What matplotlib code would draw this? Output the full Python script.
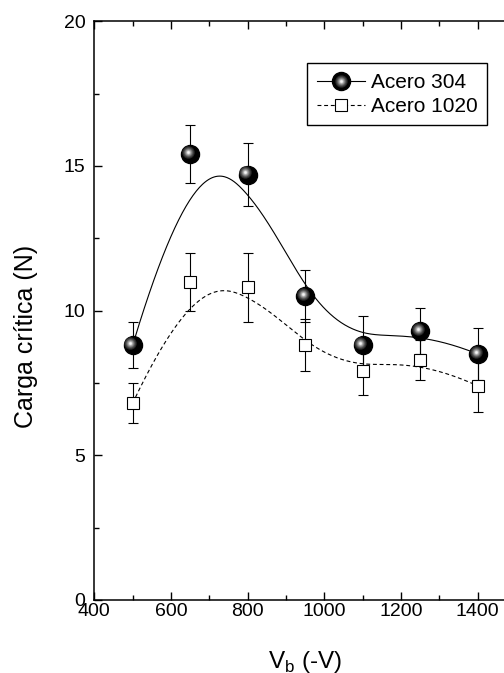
import numpy as np
import matplotlib
matplotlib.use("Agg")
import matplotlib.pyplot as plt
from matplotlib.lines import Line2D
from matplotlib.legend_handler import HandlerTuple
from matplotlib.transforms import offset_copy

# bias voltage (-V) and critical load (N)
voltage = [500, 650, 800, 950, 1100, 1250, 1400]
carga_304 = [8.8, 15.4, 14.7, 10.5, 8.8, 9.3, 8.5]
err_304 = [0.8, 1.0, 1.1, 0.9, 1.0, 0.8, 0.9]
carga_1020 = [6.8, 11.0, 10.8, 8.8, 7.9, 8.3, 7.4]
err_1020 = [0.7, 1.0, 1.2, 0.9, 0.8, 0.7, 0.9]

plt.rcParams['font.family'] = ['Liberation Sans', 'DejaVu Sans']
plt.rcParams['mathtext.fontset'] = 'custom'
plt.rcParams['mathtext.rm'] = 'Liberation Sans'

# grey layers that give the black balls their shine (size, colour)
shine_layers = [(9, '#262626'), (7.5, '#444444'), (6, '#6c6c6c'),
                (4.5, '#989898'), (3, '#c8c8c8'), (1.8, '#f4f4f4')]


def bspline(px, py, n=400, k=3):
    # clamped cubic B-spline using the data points as control points
    # (like the Origin "B-Spline" connect line)
    px = np.asarray(px, float)
    py = np.asarray(py, float)
    m = len(px)
    knots = np.concatenate([np.zeros(k), np.arange(m - k + 1), np.full(k, m - k)])
    t = np.linspace(0, knots[-1], n)
    t[-1] -= 1e-9
    N = np.array([(t >= knots[i]) & (t < knots[i + 1])
                  for i in range(len(knots) - 1)], float)
    for d in range(1, k + 1):
        Nn = np.zeros((len(knots) - 1 - d, n))
        for i in range(len(knots) - 1 - d):
            a = knots[i + d] - knots[i]
            b = knots[i + d + 1] - knots[i + 1]
            left = (t - knots[i]) / a * N[i] if a > 0 else 0
            right = (knots[i + d + 1] - t) / b * N[i + 1] if b > 0 else 0
            Nn[i] = left + right
        N = Nn
    return N.T @ px, N.T @ py


fig = plt.figure(figsize=(5.04, 6.73), dpi=100)
ax = fig.add_axes([94.3 / 504, 1 - 600 / 673, 421.8 / 504, 578.8 / 673])

# smooth curves
sx, sy = bspline(voltage, carga_304)
ax.plot(sx, sy, color='k', lw=0.8, zorder=2)
sx, sy = bspline(voltage, carga_1020)
ax.plot(sx, sy, color='k', lw=0.8, dashes=(3.5, 2.5), zorder=2)

# error bars
ax.errorbar(voltage, carga_304, yerr=err_304, fmt='none', ecolor='k',
            elinewidth=0.8, capsize=3.4, capthick=0.8, zorder=3)
ax.errorbar(voltage, carga_1020, yerr=err_1020, fmt='none', ecolor='k',
            elinewidth=0.8, capsize=3.4, capthick=0.8, zorder=3)

# markers: open squares and shaded black spheres
ax.plot(voltage, carga_1020, ls='none', marker='s', ms=9, mfc='white',
        mec='k', mew=0.8, zorder=4)
ax.plot(voltage, carga_304, ls='none', marker='o', ms=13, mfc='k',
        mec='k', zorder=5)
shine = offset_copy(ax.transData, fig=fig, x=-1.6, y=1.6, units='points')
for size, col in shine_layers:
    ax.plot(voltage, carga_304, ls='none', marker='o', ms=size, mfc=col,
            mec='none', transform=shine, zorder=6)

ax.set_xlim(400, 1500)
ax.set_ylim(0, 20)
ax.set_xticks([400, 600, 800, 1000, 1200, 1400])
ax.set_xticks(np.arange(500, 1500, 200), minor=True)
ax.set_yticks([0, 5, 10, 15, 20])
ax.set_yticks([2.5, 7.5, 12.5, 17.5], minor=True)
ax.tick_params(which='both', direction='in', top=True, right=True, width=1)
ax.tick_params(which='major', length=6)
ax.tick_params(which='minor', length=3.5)
ax.tick_params(axis='x', which='major', labelsize=14, pad=2)
ax.tick_params(axis='y', which='major', labelsize=14, pad=6.5)
for sp in ax.spines.values():
    sp.set_linewidth(1.1)

ax.set_xlabel(r'V$_{\mathregular{b}}$ (-V)', fontsize=17.5, labelpad=21)
ax.set_ylabel('Carga crítica (N)', fontsize=18)
ax.yaxis.set_label_coords(-0.133, 0.456)

# legend with line-symbol-line entries
h304 = [Line2D([], [], color='k', lw=0.8, marker='o', ms=13, mfc='k', mec='k')]
for size, col in shine_layers:
    h304.append(Line2D([], [], ls='none', marker='o', ms=size, mfc=col, mec='none'))
h1020 = Line2D([], [], color='k', lw=0.8, dashes=(3.5, 2.5), marker='s', ms=9,
               mfc='white', mec='k', mew=0.8)
leg = ax.legend([tuple(h304), h1020], ['Acero 304', 'Acero 1020'],
                handler_map={tuple: HandlerTuple(ndivide=1, pad=0)},
                loc='upper right', bbox_to_anchor=(0.931, 0.927),
                borderaxespad=0, fontsize=15, handlelength=2.3,
                handletextpad=0.3, labelspacing=0.25, borderpad=0.45,
                fancybox=False, edgecolor='k', framealpha=1)
leg.get_frame().set_linewidth(1.0)

fig.savefig('out.png', dpi=100)
